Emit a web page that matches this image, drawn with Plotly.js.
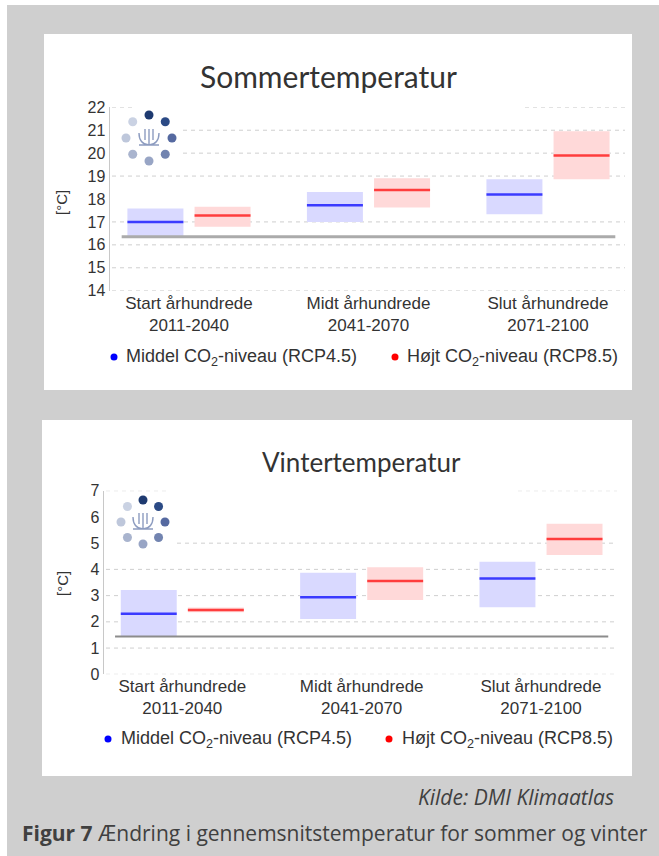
<!DOCTYPE html>
<html>
<head>
<meta charset="utf-8">
<script src="https://cdn.plot.ly/plotly-3.0.1.min.js"></script>
<style>html,body{margin:0;padding:0;background:#fff;}#chart{width:659px;height:856px;}</style>
</head>
<body>
<div id="chart"></div>
<script>
// ---------------- data ----------------
const categories = ['Start århundrede', 'Midt århundrede', 'Slut århundrede'];
const periods = ['2011-2040', '2041-2070', '2071-2100'];
const seriesNames = ['Middel CO<sub>2</sub>-niveau (RCP4.5)', 'Højt CO<sub>2</sub>-niveau (RCP8.5)'];

const summerTicks = [14, 15, 16, 17, 18, 19, 20, 21, 22];
const summerBaseline = 16.35;
const summerRcp45Low  = [16.35, 17.00, 17.34];
const summerRcp45Med  = [17.00, 17.73, 18.20];
const summerRcp45High = [17.59, 18.31, 18.86];
const summerRcp85Low  = [16.79, 17.63, 18.86];
const summerRcp85Med  = [17.28, 18.39, 19.90];
const summerRcp85High = [17.66, 18.90, 20.95];

const winterTicks = [0, 1, 2, 3, 4, 5, 6, 7];
const winterBaseline = 1.44;
const winterRcp45Low  = [1.46, 2.11, 2.56];
const winterRcp45Med  = [2.31, 2.94, 3.65];
const winterRcp45High = [3.21, 3.87, 4.29];
const winterRcp85Low  = [2.37, 2.83, 4.55];
const winterRcp85Med  = [2.45, 3.56, 5.16];
const winterRcp85High = [2.55, 4.08, 5.74];

// ---------------- layout geometry ----------------
const W = 659, H = 856;
const P1 = {xd: [110, 625], yd: [107.3, 290.7], xr: [-0.440, 2.429], yr: [14, 22], xa: 'x', ya: 'y'};
const P2 = {xd: [104, 617], yd: [490.7, 674.3], xr: [-0.4366, 2.4238], yr: [0, 7], xa: 'x2', ya: 'y2'};
function X(p, px) { return p.xr[0] + (px - p.xd[0]) / (p.xd[1] - p.xd[0]) * (p.xr[1] - p.xr[0]); }
function fx(px) { return px / W; }
function fy(py) { return 1 - py / H; }

const OFF = 0.187, BW = 0.312;
const BLUE_FILL = '#d9d9ff', RED_FILL = '#ffd9d9';
const BLUE_LINE = '#3b3bff', RED_LINE = '#ff3d3d';
const TXT = 'Liberation Sans, Arial, sans-serif';
const CAP = 'Open Sans, sans-serif';

const traces = [];
function addSeries(p, low, med, high, off, fill, lineCol) {
  const xs = categories.map((c, i) => i + off);
  traces.push({
    type: 'bar', x: xs, base: low, y: high.map((h, i) => h - low[i]), width: BW,
    marker: {color: fill, line: {width: 0}}, xaxis: p.xa, yaxis: p.ya,
    hoverinfo: 'skip', showlegend: false
  });
  const lx = [], ly = [];
  xs.forEach((x, i) => { lx.push(x - BW / 2, x + BW / 2, null); ly.push(med[i], med[i], null); });
  traces.push({
    type: 'scatter', mode: 'lines', x: lx, y: ly, line: {color: lineCol, width: 2.5},
    xaxis: p.xa, yaxis: p.ya, hoverinfo: 'skip', showlegend: false
  });
}
function addBaseline(p, val, col, w) {
  traces.push({
    type: 'scatter', mode: 'lines', x: [-0.375, 2.375], y: [val, val],
    line: {color: col, width: w}, xaxis: p.xa, yaxis: p.ya, hoverinfo: 'skip', showlegend: false
  });
}
addBaseline(P1, summerBaseline, '#ababab', 3);
addSeries(P1, summerRcp45Low, summerRcp45Med, summerRcp45High, -OFF, BLUE_FILL, BLUE_LINE);
addSeries(P1, summerRcp85Low, summerRcp85Med, summerRcp85High, OFF, RED_FILL, RED_LINE);
addBaseline(P2, winterBaseline, '#8c8c8c', 2);
addSeries(P2, winterRcp45Low, winterRcp45Med, winterRcp45High, -OFF, BLUE_FILL, BLUE_LINE);
addSeries(P2, winterRcp85Low, winterRcp85Med, winterRcp85High, OFF, RED_FILL, RED_LINE);

// ---------------- shapes ----------------
const shapes = [];
// frame
shapes.push({type: 'rect', xref: 'paper', yref: 'paper', x0: fx(7), x1: 1, y0: 0, y1: fy(5), fillcolor: '#cfcfcf', line: {width: 0}, layer: 'below'});
shapes.push({type: 'rect', xref: 'paper', yref: 'paper', x0: fx(44), x1: fx(632), y0: fy(390), y1: fy(34), fillcolor: '#ffffff', line: {width: 0}, layer: 'below'});
shapes.push({type: 'rect', xref: 'paper', yref: 'paper', x0: fx(42), x1: fx(632), y0: fy(776), y1: fy(420), fillcolor: '#ffffff', line: {width: 0}, layer: 'below'});

// dashed gridlines (segments in pixel x)
function grid(p, val, segs) {
  segs.forEach(s => shapes.push({
    type: 'line', xref: p.xa, yref: p.ya, x0: X(p, s[0]), x1: X(p, s[1]), y0: val, y1: val,
    line: {color: '#cfcfcf', width: 1, dash: '4px,4px'}, layer: 'below'
  }));
}
[[22, [[112, 132], [525, 625]]], [21, [[183, 625]]], [20, [[183, 625]]], [19, [[112, 625]]],
 [17, [[112, 625]]], [16, [[112, 625]]], [15, [[112, 625]]], [14, [[112, 625]]]].forEach(g => grid(P1, g[0], g[1]));
[[7, [[106, 167], [518, 617]]], [5, [[177, 617]]], [4, [[106, 617]]], [3, [[106, 617]]],
 [2, [[106, 617]]], [1, [[106, 617]]], [0, [[106, 617]]]].forEach(g => grid(P2, g[0], g[1]));

// DMI logo (decoration)
const logoCols = ['#1e3a70', '#2b4a85', '#5569a0', '#7284b0', '#98a5c5', '#a9b4ce', '#bec7db', '#cad2e3'];
function logo(cx, cy, R) {
  for (let k = 0; k < 8; k++) {
    const a = Math.PI / 2 - k * Math.PI / 4;
    const dx = R * Math.cos(a), dy = R * Math.sin(a);
    shapes.push({type: 'circle', xref: 'paper', yref: 'paper', xsizemode: 'pixel', ysizemode: 'pixel',
      xanchor: fx(cx), yanchor: fy(cy), x0: dx - 4.5, x1: dx + 4.5, y0: dy - 4.5, y1: dy + 4.5,
      fillcolor: logoCols[k], line: {width: 0}, layer: 'above'});
  }
  shapes.push({type: 'path', xref: 'paper', yref: 'paper', xsizemode: 'pixel', ysizemode: 'pixel',
    xanchor: fx(cx), yanchor: fy(cy),
    path: 'M0,9 L0,-7 M-4,9 L-4,-2 M4,9 L4,-2 M-10,5 Q-10,-6 0,-7 Q10,-6 10,5 M-10,-7 L10,-7',
    line: {color: '#8d9cc0', width: 1.4}, layer: 'above'});
}
logo(149, 138, 23);
logo(143, 522, 22);

// legend dots
function dot(px, py, col) {
  shapes.push({type: 'circle', xref: 'paper', yref: 'paper', xsizemode: 'pixel', ysizemode: 'pixel',
    xanchor: fx(px), yanchor: fy(py), x0: -3.5, x1: 3.5, y0: -3.5, y1: 3.5,
    fillcolor: col, line: {width: 0}, layer: 'above'});
}
dot(114, 357, '#0000ff'); dot(395, 357, '#ff0000');
dot(108, 739, '#0000ff'); dot(389, 739, '#ff0000');

// ---------------- annotations ----------------
const ann = [];
function txt(text, px, py, size, opts) {
  ann.push(Object.assign({text: text, xref: 'paper', yref: 'paper', x: fx(px), y: fy(py),
    showarrow: false, xanchor: 'center', yanchor: 'middle',
    font: {family: TXT, size: size, color: '#333333'}}, opts || {}));
}
txt('Sommertemperatur', 328, 76, 29, {font: {family: 'Lato, sans-serif', size: 30, color: '#333333'}});
txt('Vintertemperatur', 362, 462, 25, {font: {family: 'Lato, sans-serif', size: 26, color: '#333333'}});
txt('[°C]', 61, 202, 15, {textangle: -90});
txt('[°C]', 62, 584, 15, {textangle: -90});
txt(seriesNames[0], 124, 357, 18, {xanchor: 'left'});
txt(seriesNames[1], 405, 357, 18, {xanchor: 'left'});
txt(seriesNames[0], 119, 739, 18, {xanchor: 'left'});
txt(seriesNames[1], 400, 739, 18, {xanchor: 'left'});
txt('Kilde: DMI Klimaatlas', 616, 797, 21, {xanchor: 'right', font: {family: CAP, size: 21, color: '#404040', style: 'italic'}});
txt('<b>Figur 7</b> Ændring i gennemsnitstemperatur for sommer og vinter', 335, 833, 21,
  {font: {family: CAP, size: 21, color: '#404040'}});

// ---------------- axes ----------------
const catText = categories.map((c, i) => c + '<br>' + periods[i]);
function xAxis(p) {
  return {domain: [fx(p.xd[0]), fx(p.xd[1])], range: p.xr, anchor: p.ya, tickmode: 'array',
    tickvals: categories.map((c, i) => i), ticktext: catText, showgrid: false, zeroline: false,
    showline: false, ticks: '', tickfont: {family: TXT, size: 17, color: '#333333'}, fixedrange: true};
}
function yAxis(p, ticks) {
  return {domain: [fy(p.yd[1]), fy(p.yd[0])], range: p.yr, anchor: p.xa, tickmode: 'array',
    tickvals: ticks, showgrid: false, zeroline: false, showline: true, linecolor: '#c8c8c8', linewidth: 1.5,
    ticks: '', tickfont: {family: TXT, size: 16, color: '#333333'}, fixedrange: true};
}

const layout = {
  width: W, height: H, margin: {l: 0, r: 0, t: 0, b: 0, pad: 0},
  paper_bgcolor: '#ffffff', plot_bgcolor: 'rgba(0,0,0,0)',
  showlegend: false, barmode: 'overlay',
  xaxis: xAxis(P1), yaxis: yAxis(P1, summerTicks),
  xaxis2: xAxis(P2), yaxis2: yAxis(P2, winterTicks),
  shapes: shapes, annotations: ann
};
Plotly.newPlot('chart', traces, layout, {staticPlot: true, displayModeBar: false});
</script>
</body>
</html>
